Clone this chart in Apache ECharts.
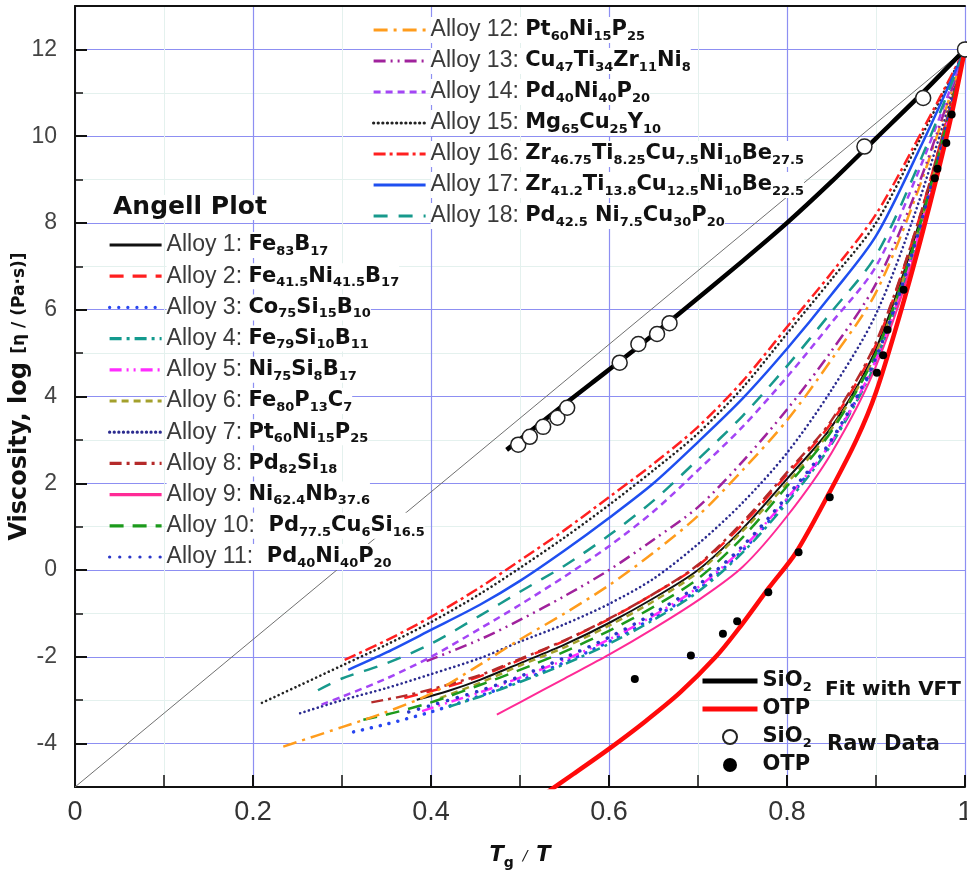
<!DOCTYPE html>
<html><head><meta charset="utf-8">
<script src="https://cdn.jsdelivr.net/npm/echarts@6/dist/echarts.min.js"></script>
<style>html,body{margin:0;padding:0;background:#fff}#c{width:967px;height:876px}</style>
</head><body><div id="c"></div>
<script>
// ---------- data ----------
const xTickLabels = ['0', '0.2', '0.4', '0.6', '0.8', '1'];
const yTickLabels = ['-4', '-2', '0', '2', '4', '6', '8', '10', '12'];

const alloyNames = ['Alloy 1','Alloy 2','Alloy 3','Alloy 4','Alloy 5','Alloy 6','Alloy 7','Alloy 8','Alloy 9',
  'Alloy 10','Alloy 11','Alloy 12','Alloy 13','Alloy 14','Alloy 15','Alloy 16','Alloy 17','Alloy 18'];
const alloyFormulas = ['Fe83B17','Fe41.5Ni41.5B17','Co75Si15B10','Fe79Si10B11','Ni75Si8B17','Fe80P13C7',
  'Pt60Ni15P25','Pd82Si18','Ni62.4Nb37.6',' Pd77.5Cu6Si16.5',' Pd40Ni40P20','Pt60Ni15P25','Cu47Ti34Zr11Ni8',
  'Pd40Ni40P20','Mg65Cu25Y10','Zr46.75Ti8.25Cu7.5Ni10Be27.5','Zr41.2Ti13.8Cu12.5Ni10Be22.5','Pd42.5 Ni7.5Cu30P20'];

const alloy1 = [[0.384,-2.99],[0.42,-2.78],[0.455,-2.53],[0.5,-2.15],[0.55,-1.72],[0.6,-1.22],[0.65,-0.65],[0.7,0.0],[0.75,0.95],[0.8,2.1],[0.85,3.3],[0.9,5.1],[0.95,8.1],[1.0,12]];
const alloy2 = [[0.37,-2.95],[0.42,-2.68],[0.455,-2.45],[0.5,-2.07],[0.55,-1.63],[0.6,-1.13],[0.65,-0.55],[0.7,0.1],[0.75,1.05],[0.8,2.2],[0.85,3.4],[0.9,5.2],[0.95,8.2],[1.0,12]];
const alloy3 = [[0.313,-3.73],[0.35,-3.55],[0.4,-3.27],[0.455,-2.9],[0.5,-2.55],[0.55,-2.13],[0.6,-1.65],[0.65,-1.1],[0.7,-0.45],[0.75,0.45],[0.8,1.62],[0.85,2.95],[0.9,4.85],[0.95,7.9],[1.0,12]];
const alloy4 = [[0.42,-3.15],[0.455,-2.92],[0.5,-2.58],[0.55,-2.17],[0.6,-1.7],[0.65,-1.15],[0.7,-0.5],[0.75,0.4],[0.8,1.55],[0.85,2.9],[0.9,4.8],[0.95,7.85],[1.0,12]];
const alloy5 = [[0.39,-3.25],[0.42,-3.05],[0.455,-2.82],[0.5,-2.48],[0.55,-2.07],[0.6,-1.6],[0.65,-1.05],[0.7,-0.4],[0.75,0.5],[0.8,1.65],[0.85,2.95],[0.9,4.85],[0.95,7.9],[1.0,12]];
const alloy6 = [[0.41,-2.95],[0.455,-2.6],[0.5,-2.2],[0.55,-1.78],[0.6,-1.28],[0.65,-0.72],[0.7,-0.05],[0.75,0.9],[0.8,2.0],[0.85,3.25],[0.9,5.0],[0.95,8.0],[1.0,12]];
const alloy7 = [[0.253,-3.3],[0.3,-3.0],[0.35,-2.72],[0.4,-2.4],[0.455,-2.03],[0.5,-1.65],[0.55,-1.25],[0.6,-0.78],[0.65,-0.2],[0.7,0.6],[0.75,1.55],[0.8,2.7],[0.85,4.15],[0.9,5.9],[0.95,8.6],[1.0,12]];
const alloy8 = [[0.333,-3.05],[0.37,-2.9],[0.4,-2.75],[0.455,-2.42],[0.5,-2.05],[0.55,-1.62],[0.6,-1.12],[0.65,-0.55],[0.7,0.12],[0.75,1.1],[0.8,2.25],[0.85,3.45],[0.9,5.25],[0.95,8.2],[1.0,12]];
const alloy9 = [[0.474,-3.33],[0.5,-3.05],[0.55,-2.5],[0.6,-1.95],[0.65,-1.35],[0.7,-0.7],[0.75,0.07],[0.8,1.24],[0.85,2.7],[0.9,4.7],[0.95,7.75],[1.0,12]];
const alloy10 = [[0.324,-3.45],[0.36,-3.28],[0.4,-3.05],[0.455,-2.65],[0.5,-2.3],[0.55,-1.88],[0.6,-1.4],[0.65,-0.85],[0.7,-0.2],[0.75,0.75],[0.8,1.93],[0.85,3.2],[0.9,5.0],[0.95,8.0],[1.0,12]];
const alloy11 = [[0.375,-3.27],[0.4,-3.12],[0.455,-2.78],[0.5,-2.45],[0.55,-2.02],[0.6,-1.55],[0.65,-1.0],[0.7,-0.35],[0.75,0.55],[0.8,1.7],[0.85,3.0],[0.9,4.9],[0.95,7.95],[1.0,12]];
const alloy12 = [[0.234,-4.07],[0.3,-3.62],[0.346,-3.3],[0.4,-2.85],[0.455,-2.18],[0.5,-1.6],[0.55,-1.0],[0.6,-0.35],[0.65,0.4],[0.7,1.25],[0.75,2.3],[0.8,3.45],[0.85,4.85],[0.9,6.4],[0.95,8.9],[1.0,12]];
const alloy13 = [[0.395,-2.1],[0.455,-1.6],[0.5,-1.15],[0.55,-0.6],[0.6,0.0],[0.65,0.7],[0.7,1.45],[0.75,2.5],[0.8,3.7],[0.85,5.05],[0.9,6.6],[0.95,9.0],[1.0,12]];
const alloy14 = [[0.277,-3.1],[0.3,-2.92],[0.35,-2.5],[0.4,-2.0],[0.455,-1.35],[0.5,-0.8],[0.55,-0.15],[0.6,0.55],[0.65,1.35],[0.7,2.3],[0.75,3.3],[0.8,4.45],[0.85,5.7],[0.9,7.0],[0.95,9.3],[1.0,12]];
const alloy15 = [[0.21,-3.06],[0.25,-2.68],[0.3,-2.2],[0.35,-1.72],[0.4,-1.2],[0.455,-0.55],[0.5,0.05],[0.55,0.75],[0.6,1.5],[0.65,2.3],[0.7,3.15],[0.75,4.2],[0.8,5.45],[0.85,6.7],[0.9,8.0],[0.95,9.95],[1.0,12]];
const alloy16 = [[0.303,-2.07],[0.35,-1.62],[0.4,-1.08],[0.455,-0.4],[0.5,0.22],[0.55,0.92],[0.6,1.68],[0.65,2.45],[0.7,3.3],[0.75,4.35],[0.8,5.6],[0.85,6.85],[0.9,8.2],[0.95,10.05],[1.0,12]];
const alloy17 = [[0.307,-2.3],[0.35,-1.9],[0.4,-1.38],[0.455,-0.8],[0.5,-0.25],[0.55,0.45],[0.6,1.2],[0.65,2.0],[0.7,2.95],[0.75,3.95],[0.8,5.1],[0.85,6.35],[0.9,7.7],[0.95,9.75],[1.0,12]];
const alloy18 = [[0.273,-2.77],[0.3,-2.5],[0.35,-2.15],[0.4,-1.7],[0.455,-1.05],[0.5,-0.5],[0.55,0.1],[0.6,0.8],[0.65,1.6],[0.7,2.55],[0.75,3.55],[0.8,4.7],[0.85,5.95],[0.9,7.25],[0.95,9.45],[1.0,12]];

const strongLine = [[0,-5],[1,12]];
const sio2Fit = [[0.485,2.77],[0.53,3.5],[0.58,4.3],[0.63,5.1],[0.68,5.93],[0.75,7.12],[0.8,8.0],[0.85,8.95],[0.9,9.95],[0.95,10.95],[1.0,12]];
const otpFit = [[0.525,-5.2],[0.56,-4.7],[0.6,-4.12],[0.64,-3.5],[0.68,-2.82],[0.72,-2.0],[0.745,-1.37],[0.78,-0.4],[0.81,0.4],[0.848,1.8],[0.878,3.0],[0.9,4.1],[0.927,5.9],[0.95,7.6],[0.97,9.2],[0.985,10.5],[1.0,12]];
const sio2Raw = [[0.498,2.89],[0.511,3.07],[0.526,3.30],[0.542,3.51],[0.553,3.74],[0.612,4.78],[0.633,5.21],[0.654,5.44],[0.668,5.69],[0.887,9.76],[0.953,10.88],[1.0,12.0]];
const otpRaw = [[0.629,-2.51],[0.692,-1.97],[0.728,-1.47],[0.744,-1.18],[0.779,-0.51],[0.813,0.41],[0.848,1.68],[0.901,4.55],[0.908,4.95],[0.913,5.54],[0.931,6.46],[0.966,9.03],[0.969,9.25],[0.979,9.84],[0.985,10.5]];

const alloyData = [alloy1,alloy2,alloy3,alloy4,alloy5,alloy6,alloy7,alloy8,alloy9,alloy10,alloy11,alloy12,alloy13,alloy14,alloy15,alloy16,alloy17,alloy18];

// ---------- styles ----------
const alloyStyles = [
  {c:'#111111', t:'solid', w:2},
  {c:'#ff1f1f', t:[14,9], w:2.5},
  {c:'#2846f0', t:[0.1,9], w:3.5, cap:'round'},
  {c:'#139a8e', t:[12,5,3,5], w:2.5},
  {c:'#ff2cff', t:[12,5,2,5,2,5], w:2.5},
  {c:'#a3a02c', t:[7,5], w:2.5},
  {c:'#2b2b8f', t:[0.1,4.5], w:2.6, cap:'round'},
  {c:'#b52a2a', t:[12,5,3,5], w:2.5},
  {c:'#ff2a96', t:'solid', w:2},
  {c:'#1c9a1c', t:[14,9], w:2.5},
  {c:'#2a36c8', t:[0.1,10], w:3.5, cap:'round'},
  {c:'#ff9c1c', t:[14,6,3,6], w:2.5},
  {c:'#a0229c', t:[12,5,2,5,2,5], w:2.5},
  {c:'#a445f5', t:[7,5], w:2.5},
  {c:'#222222', t:[0.1,4.5], w:2.6, cap:'round'},
  {c:'#ff2020', t:[12,4,3,4], w:2.5},
  {c:'#1f4ff0', t:'solid', w:2.5},
  {c:'#17998c', t:[14,11], w:2.5}
];

function richFormula(f) {
  let out = '';
  const re = /([A-Z][a-z]?)|([\d.]+)|(\s+)/g;
  let m;
  while ((m = re.exec(f)) !== null) {
    if (m[1]) out += '{b|' + m[1] + '}';
    else if (m[2]) out += '{s|' + m[2] + '}';
    else out += '{b| }';
  }
  return out;
}
const formulaMap = {};
alloyNames.forEach((n, i) => formulaMap[n] = richFormula(alloyFormulas[i]));
formulaMap['SiO2 fit'] = '{b|SiO}{s|2}';
formulaMap['OTP fit'] = '{b|OTP}';
formulaMap['SiO2 raw'] = '{b|SiO}{s|2}';
formulaMap['OTP raw'] = '{b|OTP}';

const richStyles = {
  a: {fontFamily: 'Liberation Sans', fontSize: 23, color: '#3a3a3a', lineHeight: 26},
  b: {fontFamily: 'DejaVu Sans', fontWeight: 'bold', fontSize: 21, color: '#111', lineHeight: 26},
  s: {fontFamily: 'DejaVu Sans', fontWeight: 'bold', fontSize: 13, color: '#111', lineHeight: 18, verticalAlign: 'bottom'}
};

const series = [];
series.push({name: 'ref', type: 'line', data: strongLine, symbol: 'none', silent: true, z: 1,
  lineStyle: {color: '#707070', width: 1}});
alloyData.forEach((d, i) => {
  const s = alloyStyles[i];
  series.push({name: alloyNames[i], type: 'line', data: d, symbol: 'none', smooth: 0.3,
    lineStyle: {color: s.c, type: s.t, width: s.w, cap: s.cap || 'butt', join: 'round'}, itemStyle: {color: s.c}, z: 2});
});
series.push({name: 'SiO2 fit', type: 'line', data: sio2Fit, symbol: 'none', smooth: 0.3, z: 3,
  lineStyle: {color: '#000', width: 4.5, join: 'round'}, itemStyle: {color: '#000'}});
series.push({name: 'OTP fit', type: 'line', data: otpFit, symbol: 'none', smooth: 0.3, z: 3,
  lineStyle: {color: '#ff0a0a', width: 4.5, join: 'round'}, itemStyle: {color: '#ff0a0a'}});
series.push({name: 'SiO2 raw', type: 'scatter', data: sio2Raw, symbol: 'circle', symbolSize: 15, z: 4,
  itemStyle: {color: '#fff', borderColor: '#222', borderWidth: 1.5, opacity: 1}});
series.push({name: 'OTP raw', type: 'scatter', data: otpRaw, symbol: 'circle', symbolSize: 8, z: 4,
  itemStyle: {color: '#000', opacity: 1}});

const legendCommon = {
  orient: 'vertical', padding: 0, itemHeight: 14, selectedMode: false,
  formatter: name => (name.indexOf('Alloy') === 0 ? '{a|' + name + ': }' : '') + formulaMap[name],
  textStyle: {rich: richStyles, backgroundColor: '#fff', lineHeight: 26},
  lineStyle: {width: 3.2}
};

const chart = echarts.init(document.getElementById('c'), null, {renderer: 'canvas'});
chart.setOption({
  backgroundColor: '#fff',
  animation: false,
  title: {text: 'Angell Plot', left: 110, top: 195, padding: [0, 3], backgroundColor: '#fff',
    textStyle: {fontFamily: 'DejaVu Sans', fontWeight: 'bold', fontSize: 25, color: '#111'}},
  grid: {left: 75, right: 2, top: 6, bottom: 89, containLabel: false, outerBoundsMode: 'none'},
  legend: [
    Object.assign({}, legendCommon, {data: alloyNames.slice(0, 11), left: 108, top: 232, itemWidth: 52, itemGap: 5.2,
      itemStyle: {opacity: 0}}),
    Object.assign({}, legendCommon, {data: alloyNames.slice(11), left: 372, top: 17, itemWidth: 52, itemGap: 5,
      itemStyle: {opacity: 0}}),
    Object.assign({}, legendCommon, {data: [
        {name: 'SiO2 fit', itemStyle: {opacity: 0}, lineStyle: {width: 5}},
        {name: 'OTP fit', itemStyle: {opacity: 0}, lineStyle: {width: 5}},
        {name: 'SiO2 raw'},
        {name: 'OTP raw'}], left: 700, top: 668,
      itemWidth: 55, itemGap: 2, textStyle: {rich: richStyles, lineHeight: 26}})
  ],
  xAxis: [{
    type: 'value', min: 0, max: 1, interval: 0.2,
    axisLine: {show: true, onZero: false, lineStyle: {color: '#111', width: 2}},
    axisTick: {show: true, inside: true, length: 12, lineStyle: {color: '#111', width: 2}},
    minorTick: {show: true, splitNumber: 2, length: 12, lineStyle: {color: '#111', width: 1.5}},
    splitLine: {show: true, lineStyle: {color: '#8d8ff2', width: 1.2}},
    minorSplitLine: {show: true, lineStyle: {color: '#e4f1ee', width: 1}},
    axisLabel: {margin: 12, fontSize: 27, fontFamily: 'Liberation Sans', color: '#333',
      formatter: v => xTickLabels[Math.round(v / 0.2)]},
    name: '{t|T}{g|g}{sl|  /  }{t|T}', nameLocation: 'middle', nameGap: 55, nameMoveOverlap: false,
    nameTextStyle: {rich: {
      t: {fontFamily: 'DejaVu Sans', fontWeight: 'bold', fontStyle: 'italic', fontSize: 21, color: '#111', lineHeight: 28},
      g: {fontFamily: 'DejaVu Sans', fontWeight: 'bold', fontSize: 14, color: '#111', lineHeight: 20, verticalAlign: 'bottom'},
      sl: {fontFamily: 'DejaVu Sans', fontStyle: 'italic', fontSize: 14, color: '#111', lineHeight: 28}
    }}
  }, {
    type: 'value', min: 0, max: 1, position: 'top',
    axisLine: {show: true, onZero: false, lineStyle: {color: '#111', width: 2}},
    axisTick: {show: false}, axisLabel: {show: false}, splitLine: {show: false}
  }],
  yAxis: {
    type: 'value', min: -5, max: 13, splitNumber: 9,
    axisLine: {show: true, onZero: false, lineStyle: {color: '#111', width: 2}},
    axisTick: {show: true, inside: true, length: 12, lineStyle: {color: '#111', width: 2}},
    minorTick: {show: true, splitNumber: 2, length: 8, lineStyle: {color: '#111', width: 1.5}},
    splitLine: {show: true, lineStyle: {color: '#8d8ff2', width: 1.2}},
    minorSplitLine: {show: true, lineStyle: {color: '#e4f1ee', width: 1}},
    axisLabel: {margin: 18, fontSize: 23, fontFamily: 'Liberation Sans', color: '#444', showMinLabel: false, showMaxLabel: false,
      formatter: v => (yTickLabels.indexOf(String(v)) >= 0 ? String(v) : '')},
    name: '{v|Viscosity, log }{w|[η / (Pa·s)]}', nameLocation: 'middle', nameGap: 43, nameRotate: 90, nameMoveOverlap: false,
    nameTextStyle: {rich: {
      v: {fontFamily: 'DejaVu Sans', fontWeight: 'bold', fontSize: 24, color: '#111'},
      w: {fontFamily: 'DejaVu Sans', fontWeight: 'bold', fontSize: 17, color: '#111'}
    }}
  },
  graphic: [
    {type: 'text', x: 825, y: 690, z: 10, style: {text: 'Fit with VFT', font: 'bold 20px "DejaVu Sans"', fill: '#111', verticalAlign: 'middle'}},
    {type: 'text', x: 827, y: 745, z: 10, style: {text: 'Raw Data', font: 'bold 21px "DejaVu Sans"', fill: '#111', verticalAlign: 'middle'}}
  ],
  series: series
});
</script>
</body></html>
